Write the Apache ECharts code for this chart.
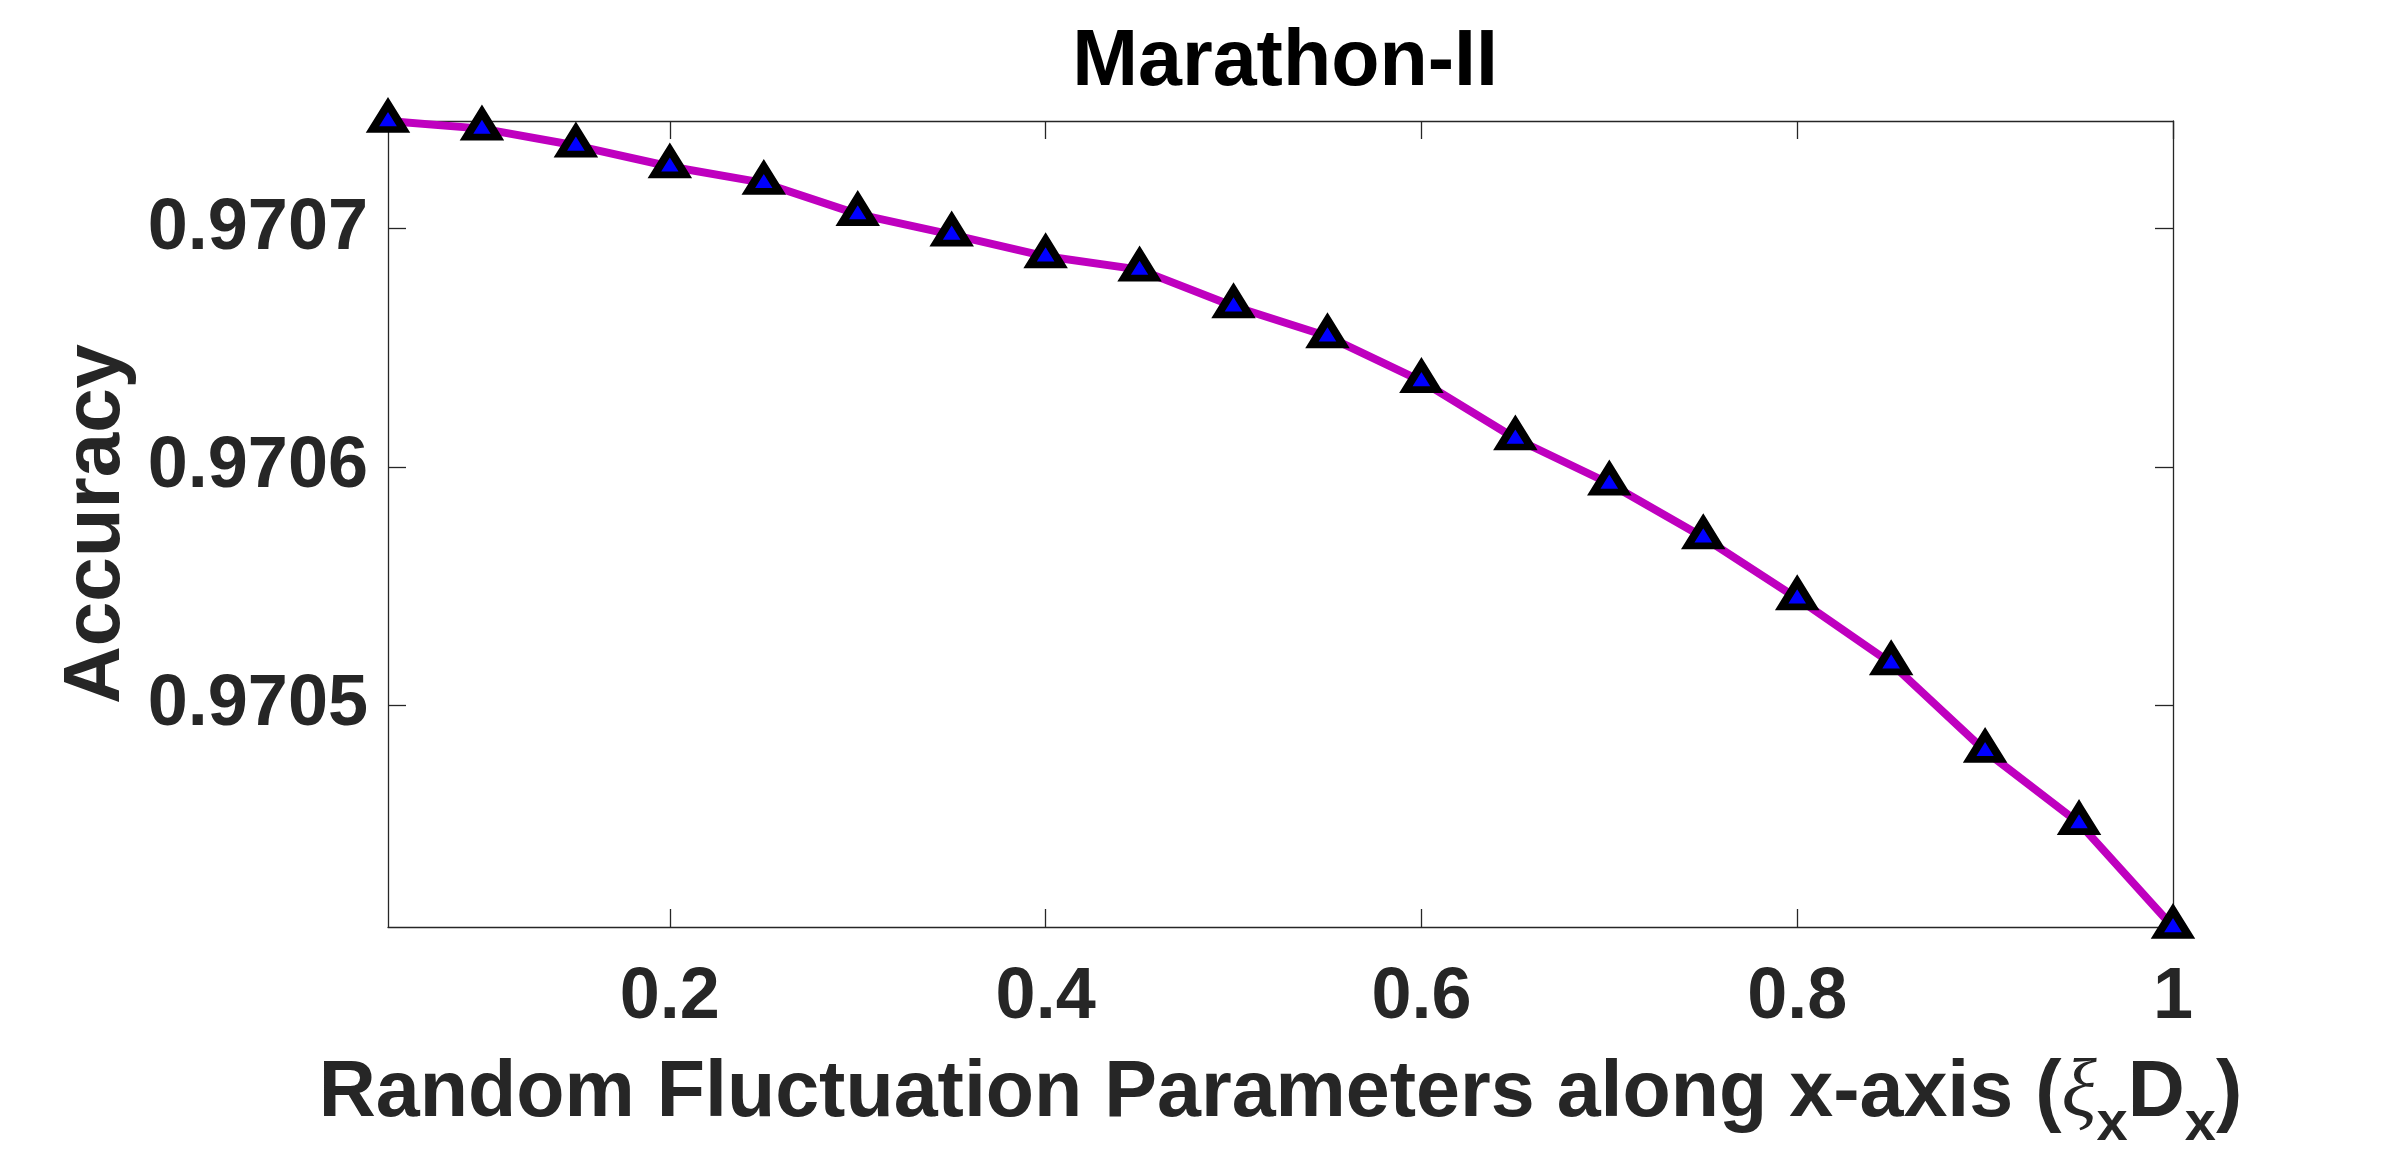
<!DOCTYPE html>
<html>
<head>
<meta charset="utf-8">
<script src="https://cdn.jsdelivr.net/npm/echarts@6/dist/echarts.min.js"></script>
<style>
  html, body { margin: 0; padding: 0; background: #fff; }
  #chart { width: 2400px; height: 1171px; }
</style>
</head>
<body>
<div id="chart"></div>
<script>
// Random fluctuation parameter (x) and accuracy
const xValues = [0.05, 0.10, 0.15, 0.20, 0.25, 0.30, 0.35, 0.40, 0.45, 0.50,
                 0.55, 0.60, 0.65, 0.70, 0.75, 0.80, 0.85, 0.90, 0.95, 1.00];
const accuracy = [0.9707452, 0.9707420, 0.9707349, 0.9707261, 0.9707192, 0.9707061,
                  0.9706975, 0.9706884, 0.9706828, 0.9706674, 0.9706548, 0.9706360,
                  0.9706119, 0.9705930, 0.9705704, 0.9705448, 0.9705175, 0.9704807,
                  0.9704504, 0.9704068];
const xTicks = [0.2, 0.4, 0.6, 0.8, 1];
const yTicks = [0.9705, 0.9706, 0.9707];
const xRange = [0.05, 1];
const yRange = [0.9704068, 0.9707452];

const FONT = "'Liberation Sans', Arial, Helvetica, sans-serif";
const AX = '#262626';

const chart = echarts.init(document.getElementById('chart'));

// box axis (top / right) just carry the inward ticks
const boxAxis = (extra) => Object.assign({
    type: 'value',
    axisLine: { show: true, onZero: false, lineStyle: { color: AX, width: 1.3 } },
    axisLabel: { show: false },
    splitLine: { show: false }
}, extra);

chart.setOption({
    backgroundColor: '#fff',
    animation: false,
    title: {
        text: 'Marathon-II',
        left: 1280,
        textAlign: 'center',
        top: 19,
        textStyle: { fontFamily: FONT, fontWeight: 'bold', fontSize: 79, color: '#000' }
    },
    grid: { left: 388, right: 227, top: 121, bottom: 244 },
    xAxis: [
        {
            type: 'value',
            min: xRange[0],
            max: xRange[1],
            position: 'bottom',
            axisLine: { show: true, onZero: false, lineStyle: { color: AX, width: 1.3 } },
            axisTick: { show: true, inside: true, length: 18, customValues: xTicks, lineStyle: { color: AX, width: 1.3 } },
            axisLabel: {
                customValues: xTicks,
                margin: 35,
                formatter: (v) => String(+v.toFixed(2)),
                fontFamily: FONT, fontWeight: 'bold', fontSize: 72, color: AX
            },
            splitLine: { show: false },
            name: 'Random Fluctuation Parameters along x-axis ({g|ξ}{s|x}D{s|x})',
            nameLocation: 'middle',
            nameGap: 108,
            nameTextStyle: {
                fontFamily: FONT, fontWeight: 'bold', fontSize: 79, color: AX,
                rich: {
                    g: { fontFamily: "'Liberation Serif', 'DejaVu Serif', serif", fontStyle: 'italic', fontWeight: 'normal', fontSize: 82, color: AX },
                    s: { fontFamily: FONT, fontWeight: 'bold', fontSize: 56, color: AX, padding: [62, 0, 0, 0] }
                }
            }
        },
        boxAxis({ min: xRange[0], max: xRange[1], position: 'top',
            axisTick: { show: true, inside: true, length: 18, customValues: xTicks, lineStyle: { color: AX, width: 1.3 } } })
    ],
    yAxis: [
        {
            type: 'value',
            min: yRange[0],
            max: yRange[1],
            position: 'left',
            axisLine: { show: true, onZero: false, lineStyle: { color: AX, width: 1.3 } },
            axisTick: { show: true, inside: true, length: 18, customValues: yTicks, lineStyle: { color: AX, width: 1.3 } },
            axisLabel: {
                customValues: yTicks,
                margin: 20,
                formatter: (v) => v.toFixed(4),
                fontFamily: FONT, fontWeight: 'bold', fontSize: 72, color: AX
            },
            splitLine: { show: false },
            name: 'Accuracy',
            nameLocation: 'middle',
            nameGap: 250,
            nameTextStyle: { fontFamily: FONT, fontWeight: 'bold', fontSize: 80, color: AX }
        },
        boxAxis({ min: yRange[0], max: yRange[1], position: 'right',
            axisTick: { show: true, inside: true, length: 18, customValues: yTicks, lineStyle: { color: AX, width: 1.3 } } })
    ],
    series: [
        {
            type: 'line',
            data: xValues.map((x, i) => [x, accuracy[i]]),
            clip: false,
            lineStyle: { color: '#BF00BF', width: 8 },
            symbol: 'triangle',
            symbolSize: [31, 25],
            symbolOffset: [0, -4],
            itemStyle: { color: '#0000FF', borderColor: '#000', borderWidth: 7.5, borderJoin: 'miter' },
            z: 3
        }
    ]
});
</script>
</body>
</html>
